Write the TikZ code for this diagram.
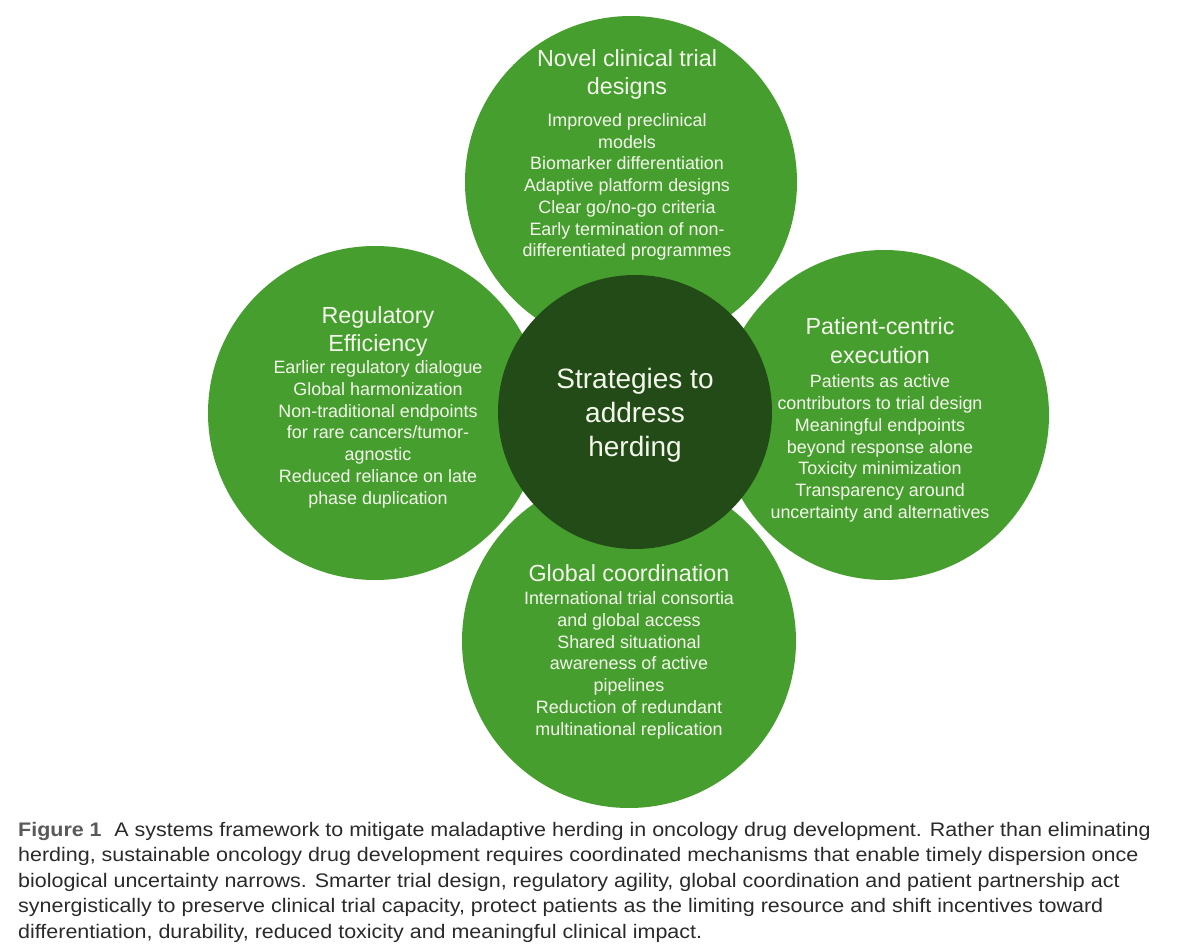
\documentclass[tikz,border=0pt]{standalone}
\usepackage{fontspec}
\setmainfont{Liberation Sans}
\newfontfamily\capfont[FakeStretch=1.095]{Liberation Sans}
\definecolor{leaf}{HTML}{469E2E}
\definecolor{forest}{HTML}{234B17}
\definecolor{cream}{HTML}{F4F8EC}
\definecolor{capgray}{HTML}{2A2A2A}
\definecolor{figgray}{HTML}{5A5A5A}
\begin{document}
\begin{tikzpicture}[x=1pt,y=-1pt,
  petal/.style={circle, fill=leaf, draw=none, inner sep=0pt, minimum size=#1},
  hub/.style={circle, fill=forest, draw=none, inner sep=0pt, minimum size=274pt},
  ttl/.style={anchor=base, align=center, text=cream, inner sep=0pt, font=\fontsize{23.3}{28.3}\selectfont},
  body/.style={anchor=base, align=center, text=cream, inner sep=0pt, font=\fontsize{17.9}{21.75}\selectfont},
  hubtext/.style={anchor=base, align=center, text=cream, inner sep=0pt, font=\fontsize{28}{34.2}\selectfont},
  captext/.style={anchor=base west, align=left, text=capgray, inner sep=0pt, font=\capfont\fontsize{19.6}{25.5}\selectfont}
]
\useasboundingbox (0,0) rectangle (1200,949);
\fill[white] (0,0) rectangle (1200,949);

% outer circles
\node[petal=332pt] (top) at (631,182) {};
\node[petal=334pt] (left) at (375,413) {};
\node[petal=330pt] (right) at (884,415) {};
\node[petal=334pt] (bottom) at (629,641) {};
% centre
\node[hub] (hub) at (635,412) {};

% texts (anchor = baseline of the last line)
\node[ttl] (topT) at (627,95) {Novel clinical trial\\designs};
\node[body] (topB) at (627,257) {Improved preclinical\\models\\Biomarker differentiation\\Adaptive platform designs\\Clear go/no-go criteria\\Early termination of non-\\differentiated programmes};

\node[ttl] (leftT) at (378,351.7) {Regulatory\\Efficiency};
\node[body] (leftB) at (378,504) {Earlier regulatory dialogue\\Global harmonization\\Non-traditional endpoints\\for rare cancers/tumor-\\agnostic\\Reduced reliance on late\\phase duplication};

\node[ttl] (rightT) at (880,363.3) {Patient-centric\\execution};
\node[body] (rightB) at (880,518.3) {Patients as active\\contributors to trial design\\Meaningful endpoints\\beyond response alone\\Toxicity minimization\\Transparency around\\uncertainty and alternatives};

\node[ttl] (bottomT) at (629,581.7) {Global coordination};
\node[body] (bottomB) at (629,735) {International trial consortia\\and global access\\Shared situational\\awareness of active\\pipelines\\Reduction of redundant\\multinational replication};

\node[hubtext] (hubT) at (635,456.7) {Strategies to\\address\\herding};

% caption
\node[captext] (cap) at (18,938) {{\bfseries\color{figgray}Figure 1}\hspace{0.65em}A systems framework to mitigate maladaptive herding in oncology drug development. Rather than eliminating\\
herding, sustainable oncology drug development requires coordinated mechanisms that enable timely dispersion once\\
biological uncertainty narrows. Smarter trial design, regulatory agility, global coordination and patient partnership act\\
synergistically to preserve clinical trial capacity, protect patients as the limiting resource and shift incentives toward\\
differentiation, durability, reduced toxicity and meaningful clinical impact.};
\end{tikzpicture}
\end{document}
